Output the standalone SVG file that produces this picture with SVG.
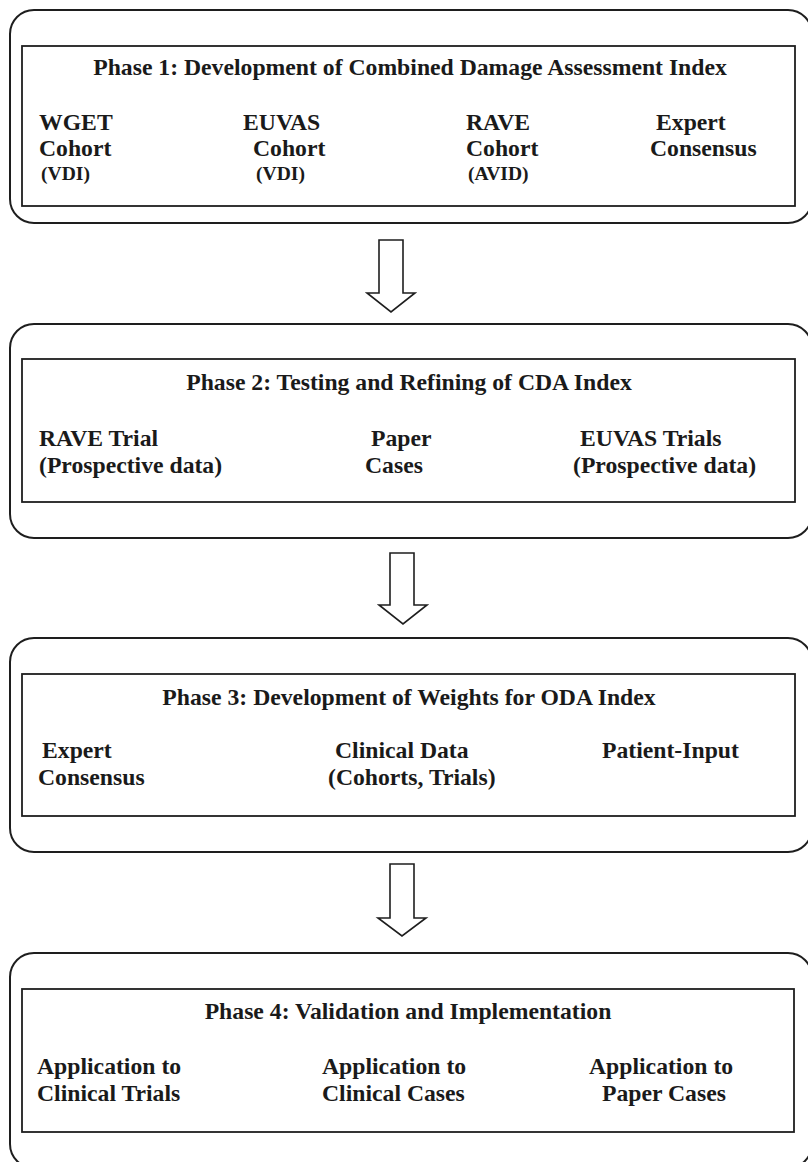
<svg xmlns="http://www.w3.org/2000/svg" width="808" height="1162" viewBox="0 0 808 1162">
<style>
.outer{fill:none;stroke:#1e1e1e;stroke-width:2}
.inner{fill:none;stroke:#1e1e1e;stroke-width:1.8}
.arrow{fill:#fff;stroke:#1e1e1e;stroke-width:1.6;stroke-linejoin:miter}
text{font-family:"Liberation Serif","Times New Roman",serif;font-weight:bold;font-size:23.7px;fill:#1a1a1a}
.title{text-anchor:middle}
.small{font-size:19.6px}
</style>
<rect width="808" height="1162" fill="#fff"/>
<g id="connectors">
<path class="arrow" d="M379 240 H403 V293 H415 L391 312 L367 293 H379 Z"/>
<path class="arrow" d="M390 553 H414 V605 H427 L403 624 L379 605 H390 Z"/>
<path class="arrow" d="M390 864 H414 V918 H426 L402 936 L378 918 H390 Z"/>
</g>
<g id="phase1">
<rect class="outer" x="10" y="10" width="802" height="213" rx="24" ry="24"/>
<rect class="inner" x="22" y="46" width="773" height="160"/>
<text class="title" x="410" y="75">Phase 1: Development of Combined Damage Assessment Index</text>
<text x="39" y="130">WGET</text>
<text x="39" y="156">Cohort</text>
<text class="small" x="41" y="180">(VDI)</text>
<text x="243" y="130">EUVAS</text>
<text x="253" y="156">Cohort</text>
<text class="small" x="256" y="180">(VDI)</text>
<text x="466" y="130">RAVE</text>
<text x="466" y="156">Cohort</text>
<text class="small" x="468" y="180">(AVID)</text>
<text x="656" y="130">Expert</text>
<text x="650" y="156">Consensus</text>
</g>
<g id="phase2">
<rect class="outer" x="10" y="324" width="802" height="214" rx="24" ry="24"/>
<rect class="inner" x="22" y="359" width="773" height="143"/>
<text class="title" x="409" y="390">Phase 2: Testing and Refining of CDA Index</text>
<text x="39" y="446">RAVE Trial</text>
<text x="39" y="473">(Prospective data)</text>
<text x="371" y="446">Paper</text>
<text x="365" y="473">Cases</text>
<text x="580" y="446">EUVAS Trials</text>
<text x="573" y="473">(Prospective data)</text>
</g>
<g id="phase3">
<rect class="outer" x="10" y="638" width="802" height="214" rx="24" ry="24"/>
<rect class="inner" x="22" y="674" width="773" height="142"/>
<text class="title" x="409" y="705">Phase 3: Development of Weights for ODA Index</text>
<text x="42" y="758">Expert</text>
<text x="38" y="785">Consensus</text>
<text x="335" y="758">Clinical Data</text>
<text x="328" y="785">(Cohorts, Trials)</text>
<text x="602" y="758">Patient-Input</text>
</g>
<g id="phase4">
<rect class="outer" x="10" y="953" width="802" height="215" rx="24" ry="24"/>
<rect class="inner" x="22" y="989" width="772" height="143"/>
<text class="title" x="408" y="1019">Phase 4: Validation and Implementation</text>
<text x="37" y="1074">Application to</text>
<text x="37" y="1101">Clinical Trials</text>
<text x="322" y="1074">Application to</text>
<text x="322" y="1101">Clinical Cases</text>
<text x="589" y="1074">Application to</text>
<text x="602" y="1101">Paper Cases</text>
</g>
</svg>
